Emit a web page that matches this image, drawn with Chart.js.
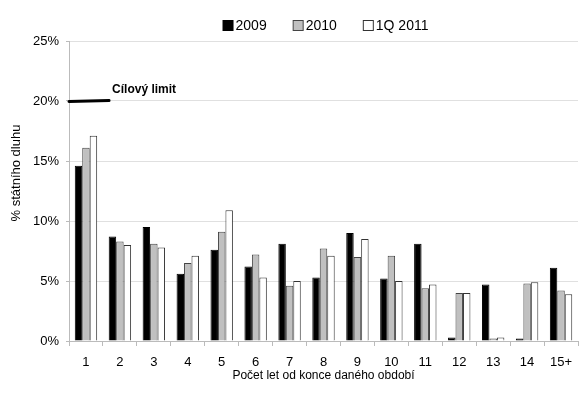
<!DOCTYPE html>
<html lang="cs">
<head>
    <meta charset="UTF-8">
    <title>Splatnostní profil státního dluhu</title>
    <script src="https://cdn.jsdelivr.net/npm/chart.js@4.4.0/dist/chart.umd.min.js"></script>
    <style>
        html, body { margin: 0; padding: 0; background: #fff; }
        #wrap { width: 588px; height: 393px; }
    </style>
</head>
<body>
<div id="wrap"><canvas id="chart" width="588" height="393"></canvas></div>
<script>
// data
const categories = ['1','2','3','4','5','6','7','8','9','10','11','12','13','14','15+'];
const values2009 = [14.6, 8.7, 9.5, 5.6, 7.6, 6.2, 8.1, 5.3, 9.0, 5.2, 8.1, 0.3, 4.7, 0.2, 6.1];
const values2010 = [16.1, 8.3, 8.1, 6.5, 9.1, 7.2, 4.6, 7.7, 7.0, 7.1, 4.4, 4.0, 0.2, 4.8, 4.2];
const values2011 = [17.1, 8.0, 7.8, 7.1, 10.9, 5.3, 5.0, 7.1, 8.5, 5.0, 4.7, 4.0, 0.3, 4.9, 3.9];
const yTicks = [0, 5, 10, 15, 20, 25];
const targetLimit = 20;
const targetLabel = 'Cílový limit';
const yTitle = '% státního dluhu';

const font = 'Liberation Sans, Arial, sans-serif';

// thick "Cílový limit" line at 20 %, plus the y axis title (sits a bit above centre)
const targetPlugin = {
    id: 'target',
    afterDatasetsDraw(chart) {
        const { ctx, chartArea, scales } = chart;
        const y = scales.y.getPixelForValue(targetLimit);
        const catW = scales.x.getPixelForValue(1) - scales.x.getPixelForValue(0);
        const xEnd = scales.x.getPixelForValue(0) + catW * 0.68;
        ctx.save();
        ctx.strokeStyle = '#000';
        ctx.lineWidth = 3;
        ctx.lineCap = 'round';
        ctx.beginPath();
        ctx.moveTo(chartArea.left, y + 0.5);
        ctx.lineTo(xEnd, y - 0.5);
        ctx.stroke();
        ctx.fillStyle = '#000';
        ctx.font = 'bold 12px ' + font;
        ctx.textBaseline = 'middle';
        ctx.fillText(targetLabel, xEnd + 3, y - 11);

        ctx.font = '13px ' + font;
        ctx.textAlign = 'center';
        ctx.translate(16, scales.y.getPixelForValue(14));
        ctx.rotate(-Math.PI / 2);
        ctx.fillText(yTitle, 0, 0);
        ctx.restore();
    }
};

// legend drawn by hand: small square right next to the label
const legendPlugin = {
    id: 'ownLegend',
    afterDraw(chart) {
        const { ctx, chartArea } = chart;
        const box = 10, gap = 3, spacing = 26, y = 25;
        ctx.save();
        ctx.font = '14px ' + font;
        const items = chart.data.datasets.map(ds => ({ ds, w: ctx.measureText(ds.label).width }));
        const total = items.reduce((s, it) => s + box + gap + it.w, 0) + spacing * (items.length - 1);
        let x = (chartArea.left + chartArea.right) / 2 - total / 2 + 2;
        items.forEach(it => {
            ctx.fillStyle = it.ds.backgroundColor;
            ctx.fillRect(x + 0.5, y - box / 2 + 0.5, box, box);
            ctx.strokeStyle = it.ds.borderColor;
            ctx.lineWidth = 1;
            ctx.strokeRect(x + 0.5, y - box / 2 + 0.5, box, box);
            ctx.fillStyle = '#000';
            ctx.textBaseline = 'middle';
            ctx.fillText(it.ds.label, x + box + gap, y + 1);
            x += box + gap + it.w + spacing;
        });
        ctx.restore();
    }
};

new Chart(document.getElementById('chart'), {
    type: 'bar',
    data: {
        labels: categories,
        datasets: [
            { label: '2009', data: values2009, backgroundColor: '#000', borderColor: '#000', borderWidth: 1 },
            { label: '2010', data: values2010, backgroundColor: '#c0c0c0', borderColor: '#444', borderWidth: 1 },
            { label: '1Q 2011', data: values2011, backgroundColor: '#fff', borderColor: '#333', borderWidth: 1 }
        ]
    },
    options: {
        responsive: false,
        animation: false,
        layout: { padding: { left: 8, right: 10, top: 41, bottom: 10 } },
        datasets: { bar: { categoryPercentage: 0.66, barPercentage: 1 } },
        plugins: {
            legend: { display: false },
            tooltip: { enabled: false }
        },
        scales: {
            x: {
                grid: { display: true, drawOnChartArea: false, color: '#bbb', tickLength: 5, offset: true },
                border: { color: '#bbb' },
                ticks: { font: { family: font, size: 13 }, color: '#000', padding: 9 },
                title: { display: true, text: 'Počet let od konce daného období', font: { family: font, size: 12 }, color: '#000', padding: { top: -11, bottom: 0 } }
            },
            y: {
                min: 0,
                max: 25,
                afterBuildTicks(axis) { axis.ticks = yTicks.map(v => ({ value: v })); },
                afterFit(axis) { axis.width = 61; },
                grid: { color: '#e0e0e0', tickColor: '#bbb', tickLength: 3 },
                border: { color: '#bbb' },
                ticks: { font: { family: font, size: 13 }, color: '#000', padding: 7, callback: v => v + '%' }
            }
        }
    },
    plugins: [targetPlugin, legendPlugin]
});
</script>
</body>
</html>
